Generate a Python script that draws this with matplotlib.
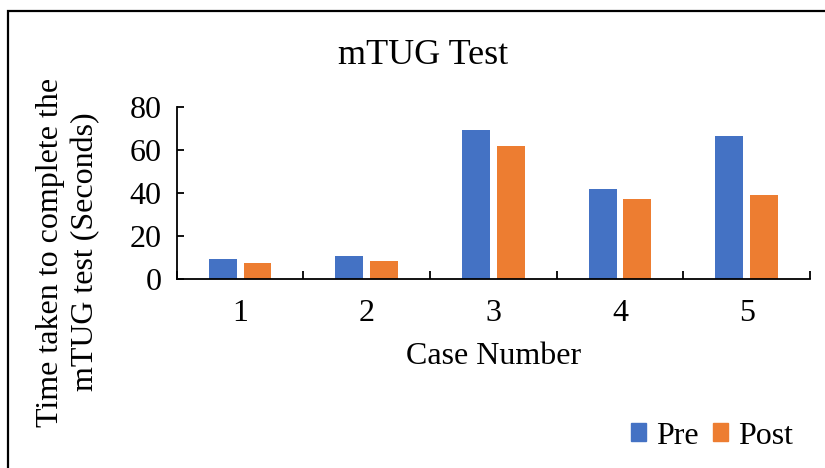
import numpy as np
import matplotlib
matplotlib.use("Agg")
import matplotlib.pyplot as plt
from matplotlib.patches import Patch, Rectangle

# values
cases = ["1", "2", "3", "4", "5"]
pre = [9.3, 11.0, 69.2, 41.8, 66.5]
post = [7.5, 8.4, 62.0, 37.3, 39.1]

blue = "#4472C4"
orange = "#ED7D31"

plt.rcParams["font.family"] = ["Liberation Serif", "DejaVu Serif"]

fig = plt.figure(figsize=(8.25, 4.68), dpi=100)
ax = fig.add_axes([0.2142, 0.4032, 0.7676, 0.3682])

x = np.arange(1, len(cases) + 1)
w = 0.22
off = 0.1375
ax.bar(x - off, pre, w, color=blue, label="Pre")
ax.bar(x + off, post, w, color=orange, label="Post")

ax.set_xlim(0.5, len(cases) + 0.5)
ax.set_ylim(0, 80)
ax.set_yticks([0, 20, 40, 60, 80])
ax.set_xticks(x)
ax.set_xticklabels(cases)
ax.set_xticks(np.arange(0.5, len(cases) + 1, 1), minor=True)

for s in ["top", "right"]:
    ax.spines[s].set_visible(False)
for s in ["left", "bottom"]:
    ax.spines[s].set_linewidth(1.3)

ax.tick_params(axis="x", which="major", length=0, pad=14, labelsize=23)
ax.tick_params(axis="x", which="minor", direction="in", length=6, width=1.3)
ax.tick_params(axis="y", direction="in", length=5, width=1.3, pad=11, labelsize=23)

ax.set_xlabel("Case Number", fontsize=23, labelpad=10)
fig.text(68 / 825, 1 - 252 / 468, "Time taken to complete the\nmTUG test (Seconds)",
         rotation=90, fontsize=23, ha="center", va="center",
         multialignment="center", linespacing=1.3)
fig.text(423 / 825, 1 - 55 / 468, "mTUG Test", fontsize=26, ha="center", va="center")

handles = [Patch(color=blue, label="Pre"), Patch(color=orange, label="Post")]
fig.legend(handles=handles, loc="center", bbox_to_anchor=(712 / 825, 1 - 436 / 468), ncol=2,
           frameon=False, fontsize=23, handlelength=0.47, handleheight=0.47,
           handletextpad=0.3, columnspacing=0.45, borderpad=0)

# outer chart frame (cropped at right and bottom in the reference)
fig.patches.append(Rectangle((8 / 825, -0.1), 1.2, 1 - 11 / 468 + 0.1,
                             transform=fig.transFigure, fill=False,
                             edgecolor="black", linewidth=1.6))

fig.savefig("out.png", dpi=100)
